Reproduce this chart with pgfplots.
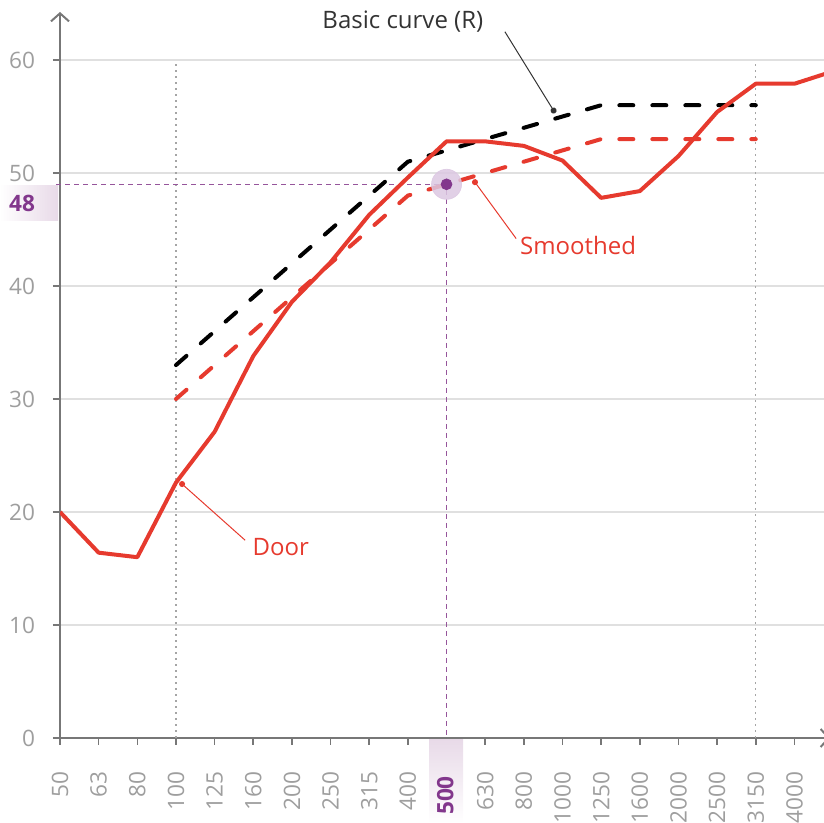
\documentclass[border=0pt]{standalone}
\usepackage{pgfplots}
\pgfplotsset{compat=1.18}
\usepackage{pgfplotstable}
\usepackage{fontspec}
\setmainfont{Open Sans}
\usetikzlibrary{arrows.meta}
\definecolor{doorred}{RGB}{230,58,46}
\definecolor{labelgrey}{RGB}{158,158,158}
\definecolor{axisgrey}{RGB}{119,119,119}
\definecolor{gridgrey}{RGB}{224,224,224}
\definecolor{dotgrey}{RGB}{165,165,165}
\definecolor{hlpurple}{RGB}{130,55,140}
\definecolor{guide}{RGB}{150,85,155}
\definecolor{halo}{RGB}{220,200,226}
\definecolor{hlbg}{RGB}{232,218,232}
\definecolor{darktext}{RGB}{51,51,51}

\pgfplotstableread{
x y
0 20.0
1 16.4
2 16.0
3 22.6
4 27.1
5 33.8
6 38.6
7 42.1
8 46.3
9 49.6
10 52.8
11 52.8
12 52.4
13 51.1
14 47.8
15 48.4
16 51.5
17 55.4
18 57.9
19 57.9
20 59.0
}\door

\pgfplotstableread{
x y
3 33
4 36
5 39
6 42
7 45
8 48
9 51
10 52
11 53
12 54
13 55
14 56
15 56
16 56
17 56
18 56
}\basic

\pgfplotstableread{
x y
3 30
4 33
5 36
6 39
7 42
8 45
9 48
10 49
11 50
12 51
13 52
14 53
15 53
16 53
17 53
18 53
}\smoothed

\begin{document}
\begin{tikzpicture}
\begin{axis}[
  at={(0,0)}, anchor=south west,
  scale only axis, width=385pt, height=363pt,
  xmin=0, xmax=19.92, ymin=0, ymax=64.25,
  axis lines=left,
  axis line style={draw=axisgrey, line width=1pt, -{Straight Barb[length=4pt,width=9pt,line width=1pt]}},
  clip mode=individual,
  xtick={0,...,19},
  xticklabels={50,63,80,100,125,160,200,250,315,400,{},630,800,1000,1250,1600,2000,2500,3150,4000},
  ytick={0,10,...,60},
  ymajorgrids,
  grid style={draw=gridgrey, line width=0.7pt},
  tick align=outside,
  major tick length=3.5pt,
  tick style={draw=axisgrey, line width=0.8pt},
  /pgf/number format/assume math mode=true,
  tick label style={font=\fontsize{11.3pt}{13pt}\selectfont, text=labelgrey},
  xticklabel style={rotate=90, anchor=east},
  xticklabel shift=10pt,
  yticklabel shift=5.5pt,
]
% vertical dotted lines
\addplot[dotgrey, line width=0.7pt, dash pattern=on 0.8pt off 2.2pt] coordinates {(3,0) (3,60)};
\addplot[dotgrey, line width=0.7pt, dash pattern=on 0.8pt off 2.2pt] coordinates {(18,0) (18,60)};
% highlight guide lines
\draw[guide, line width=0.6pt, dash pattern=on 2.5pt off 2pt] (axis cs:-0.1,49) -- (axis cs:10,49) -- (axis cs:10,0);
% curves
\addplot[black, line width=2pt, line cap=round, dash pattern=on 7pt off 9.5pt] table {\basic};
\addplot[doorred, line width=2pt, line cap=round, dash pattern=on 7pt off 9.5pt] table {\smoothed};
\addplot[doorred, line width=2pt, line join=round] table {\door};
% highlighted point
\addplot[only marks, mark=*, mark size=7.5pt, halo, opacity=0.85] coordinates {(10,49)};
\addplot[only marks, mark=*, mark size=2.7pt, hlpurple] coordinates {(10,49)};
% callouts
\draw[darktext, line width=0.5pt, {Circle[length=3pt]}-] (axis cs:12.81,55.3) -- (axis cs:11.51,62.5);
\node[darktext, font=\fontsize{12pt}{14pt}\selectfont] at (axis cs:8.87,63.4) {Basic curve (R)};
\draw[doorred, line width=0.5pt, {Circle[length=3pt]}-] (axis cs:10.69,49.4) -- (axis cs:11.8,44.2);
\node[doorred, anchor=west, font=\fontsize{12pt}{14pt}\selectfont] at (axis cs:11.72,43.6) {Smoothed};
\draw[doorred, line width=0.5pt, {Circle[length=3pt]}-] (axis cs:3.10,22.65) -- (axis cs:4.79,17.5);
\node[doorred, anchor=west, font=\fontsize{12pt}{14pt}\selectfont] at (axis cs:4.80,16.9) {Door};
% highlight labels
\shade[left color=white, right color=hlbg] (axis cs:-1.56,48.85) rectangle (axis cs:-0.05,45.84);
\node[hlpurple, font=\fontsize{11.3pt}{13pt}\selectfont\bfseries] at (axis cs:-0.98,47.35) {48};
\shade[top color=hlbg, bottom color=white] (axis cs:9.55,-0.1) rectangle (axis cs:10.43,-7.52);
\node[hlpurple, rotate=90, anchor=east, font=\fontsize{11.3pt}{13pt}\selectfont\bfseries] at (axis cs:9.97,-2.75) {500};
\end{axis}
\pgfresetboundingbox
\useasboundingbox (-30pt,-42.5pt) rectangle (382pt,369pt);
\end{tikzpicture}
\end{document}
